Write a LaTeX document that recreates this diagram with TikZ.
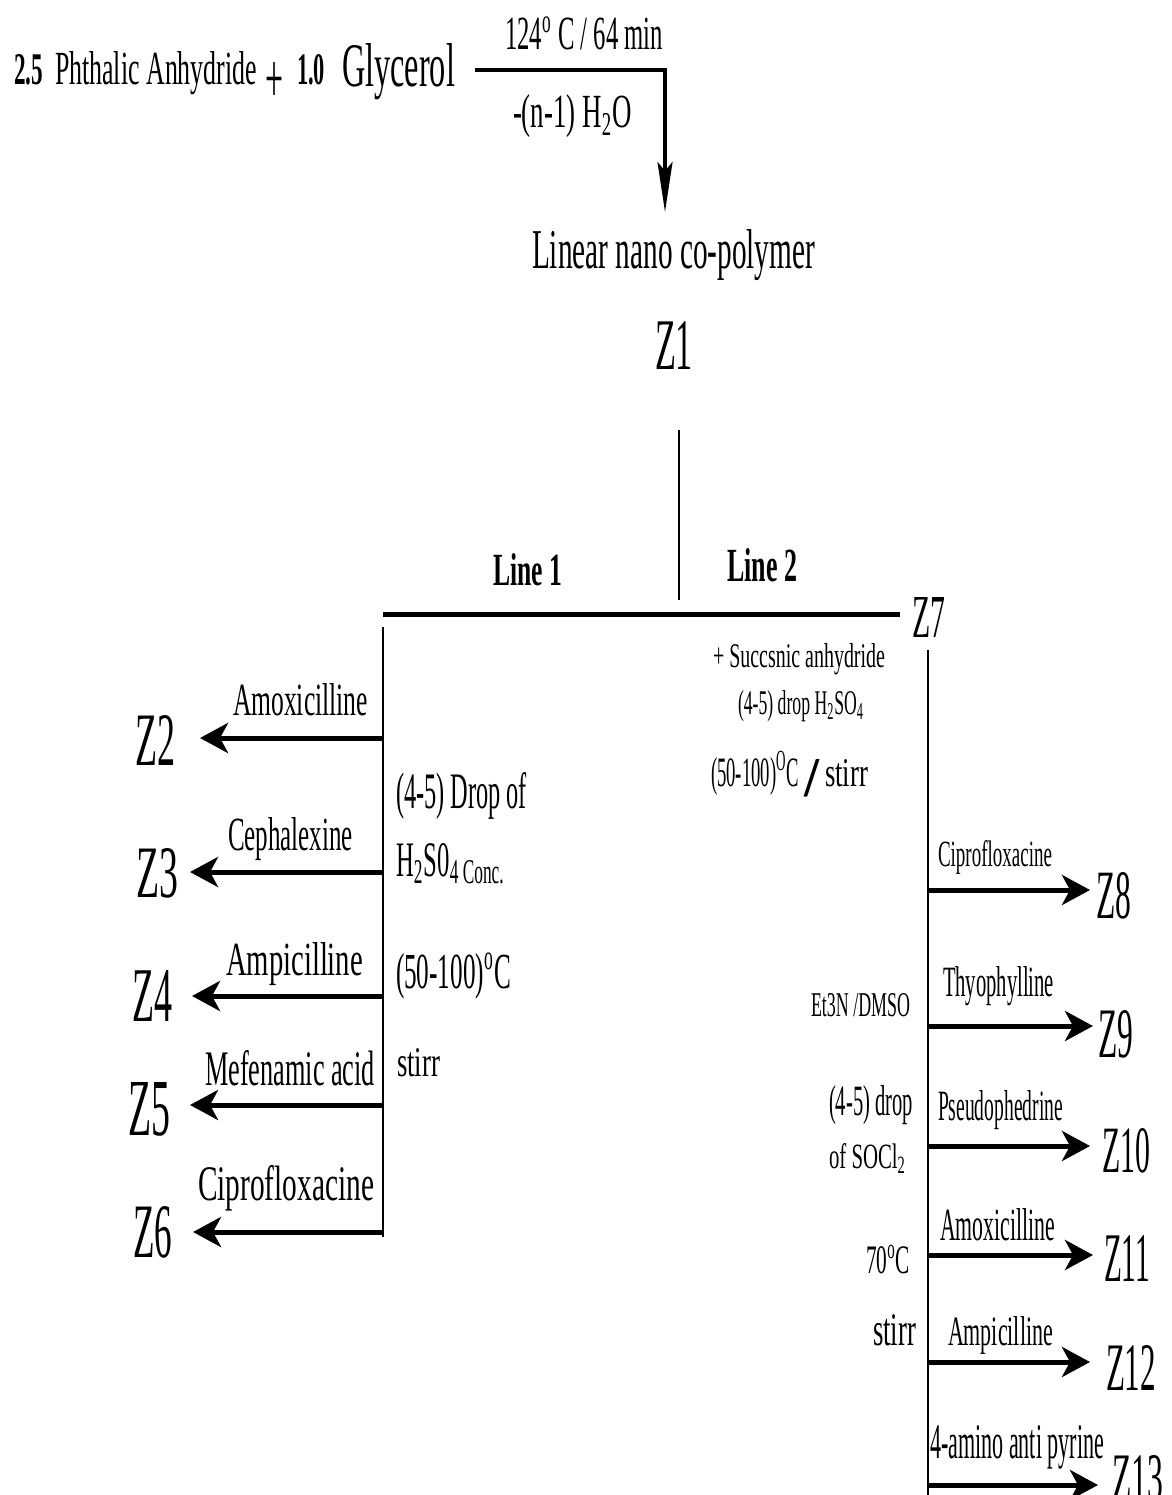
\documentclass[tikz,border=0pt]{standalone}
\usepackage{fontspec}
\setmainfont{Liberation Serif}
\usepackage{graphicx}
\usetikzlibrary{arrows.meta}
\newcommand\fit[3]{\resizebox{#1pt}{#2pt}{#3}}
\newcommand\supsm[1]{\smash{\textsuperscript{#1}}}
\begin{document}
\begin{tikzpicture}[x=1pt,y=-1pt,
  every node/.style={inner sep=0pt,outer sep=0pt,anchor=base west},
  trunk/.style={line width=2.5pt},
  bar/.style={line width=5pt},
  arr/.style={line width=5pt,-{Stealth[length=28pt,width=30pt,inset=8pt]}},
  toparr/.style={line width=4pt,line join=miter,-{Stealth[length=50pt,width=15pt,inset=9pt]}}]
\useasboundingbox (0,0) rectangle (1171,1495);
% reactants
\node (r1) at (14,85) {\fit{29}{30}{\bfseries 2.5}};
\node (r2) at (55,85) {\fit{202}{33}{Phthalic Anhydride}};
\node (r3) at (265,85) {\raisebox{-18pt}{\fit{18}{40}{+}}};
\node (r4) at (297,85) {\fit{28}{30}{\bfseries 1.0}};
\node (r5) at (342,87) {\fit{113}{43}{Glycerol}};
\coordinate (c0) at (475,70);
\coordinate (c1) at (665,70);
\node (cond1) at (505,50) {\fit{158}{33}{124\textsuperscript{o} C / 64 min}};
\node (cond2) at (513,128) {\fit{119}{33}{-(n-1) H\textsubscript{2}O}};
\node (lin) at (532,269) {\fit{283}{39}{Linear nano co-polymer}};
\draw[toparr] (c0) -- (c1) -- ([yshift=18pt]lin.north -| c1);
\node (z1) at (655,369) {\fit{38}{48}{Z1}};
\coordinate (v0) at (679,430);
\coordinate (v1) at (679,600);
\draw[trunk] (v0) -- (v1);
\node (l1) at (493,585) {\fit{69}{32}{\bfseries Line 1}};
\node (l2) at (727,581) {\fit{70}{33}{\bfseries Line 2}};
\node (z7) at (912,637) {\fit{33}{40}{Z7}};
\coordinate (h0) at (383,614);
\draw[bar,shorten >=12pt] (h0) -- (h0 -| z7.west);
% left branch
\coordinate (lt0) at (383,627);
\coordinate (lt1) at (383,1237);
\draw[trunk] (lt0) -- (lt1);
\node (z2) at (135,765) {\fit{40}{50}{Z2}};
\node (z3) at (136,897) {\fit{42}{49}{Z3}};
\node (z4) at (132,1021) {\fit{40}{51}{Z4}};
\node (z5) at (128,1135) {\fit{42}{53}{Z5}};
\node (z6) at (133,1257) {\fit{39}{51}{Z6}};
\coordinate (a2) at (383,738);
\coordinate (a3) at (383,872);
\coordinate (a4) at (383,996);
\coordinate (a5) at (383,1105);
\coordinate (a6) at (383,1232);
\draw[arr,shorten >=25pt] (a2) -- (a2 -| z2.east);
\draw[arr,shorten >=12pt] (a3) -- (a3 -| z3.east);
\draw[arr,shorten >=20pt] (a4) -- (a4 -| z4.east);
\draw[arr,shorten >=20pt] (a5) -- (a5 -| z5.east);
\draw[arr,shorten >=21pt] (a6) -- (a6 -| z6.east);
\node (t2) at (233,715) {\fit{135}{32}{Amoxicilline}};
\node (t3) at (228,850) {\fit{125}{33}{Cephalexine}};
\node (t4) at (226,975) {\fit{137}{33}{Ampicilline}};
\node (t5) at (205,1085) {\fit{170}{35}{Mefenamic acid}};
\node (t6) at (198,1200) {\fit{176}{35}{Ciprofloxacine}};
\node (k1) at (396,808) {\fit{131}{36}{(4-5) Drop of}};
\node (k2) at (396,876) {\fit{109}{33}{H\textsubscript{2}S0\textsubscript{4 Conc.}}};
\node (k3) at (396,988) {\fit{115}{35}{(50-100)\textsuperscript{o}C}};
\node (k4) at (397,1076) {\fit{43}{28}{stirr}};
% right branch
\node (s1) at (713,667) {\fit{172}{24}{+ Succsnic anhydride}};
\node (s2) at (738,714) {\fit{126}{24}{(4-5) drop H\textsubscript{2}SO\textsubscript{4}}};
\node (s3) at (711,786) {\fit{88}{29}{(50-100)\supsm{O}C}\hspace{5pt}\raisebox{-10pt}{\fit{15}{37}{\bfseries /}}\hspace{6pt}\fit{43}{27}{stirr}};
\coordinate (rt0) at (928,650);
\coordinate (rt1) at (928,1500);
\draw[trunk] (rt0) -- (rt1);
\node (z8) at (1096,918) {\fit{35}{46}{Z8}};
\node (z9) at (1098,1057) {\fit{35}{47}{Z9}};
\node (z10) at (1102,1172) {\fit{48}{44}{Z10}};
\node (z11) at (1104,1281) {\fit{46}{46}{Z11}};
\node (z12) at (1106,1390) {\fit{50}{45}{Z12}};
\node (z13) at (1112,1500) {\fit{51}{45}{Z13}};
\coordinate (b8) at (928,890);
\coordinate (b9) at (928,1026);
\coordinate (b10) at (928,1146);
\coordinate (b11) at (928,1255);
\coordinate (b12) at (928,1362);
\coordinate (b13) at (928,1485);
\draw[arr,shorten >=6pt] (b8) -- (b8 -| z8.west);
\draw[arr,shorten >=5pt] (b9) -- (b9 -| z9.west);
\draw[arr,shorten >=12pt] (b10) -- (b10 -| z10.west);
\draw[arr,shorten >=11pt] (b11) -- (b11 -| z11.west);
\draw[arr,shorten >=16pt] (b12) -- (b12 -| z12.west);
\draw[arr,shorten >=14pt] (b13) -- (b13 -| z13.west);
\node (u8) at (938,866) {\fit{114}{26}{Ciprofloxacine}};
\node (u9) at (943,996) {\fit{111}{30}{Thyophylline}};
\node (u10) at (938,1120) {\fit{125}{30}{Pseudophedrine}};
\node (u11) at (940,1240) {\fit{115}{32}{Amoxicilline}};
\node (u12) at (948,1345) {\fit{105}{29}{Ampicilline}};
\node (u13) at (930,1458) {\fit{174}{33}{4-amino anti pyrine}};
\node (m1) at (811,1016) {\fit{99}{23}{Et3N /DMSO}};
\node (m2) at (829,1115) {\fit{84}{30}{(4-5) drop}};
\node (m3) at (829,1168) {\fit{77}{25}{of SOCl\textsubscript{2}}};
\node (m4) at (866,1273) {\fit{44}{28}{70\textsuperscript{o}C}};
\node (m5) at (873,1345) {\fit{43}{31}{stirr}};
\end{tikzpicture}
\end{document}
